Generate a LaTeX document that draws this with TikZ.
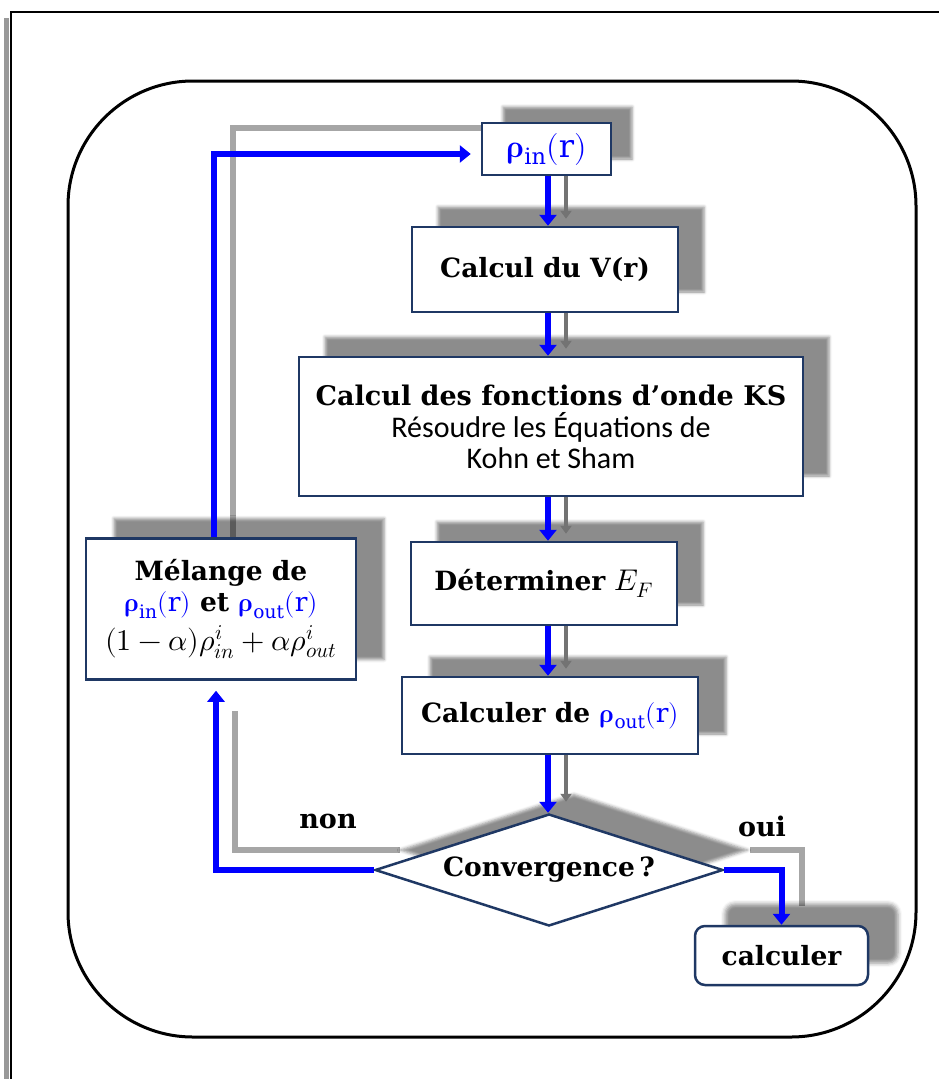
\documentclass[tikz,border=0pt]{standalone}
\usepackage{fontspec}
\usepackage{unicode-math}
\setmainfont{DejaVu Serif}
\setsansfont{Carlito}
\setmathfont{Latin Modern Math}
\usetikzlibrary{shapes.geometric,arrows.meta,shadows.blur}
\definecolor{boxblue}{RGB}{31,56,100}
\definecolor{flowblue}{RGB}{0,0,255}
\pgfdeclarelayer{bg}
\pgfsetlayers{bg,main}
\newcommand{\rin}{\textcolor{flowblue}{$\symbfup{\rho}_{\mathrm{in}}(\mathrm{r})$}}
\newcommand{\rout}{\textcolor{flowblue}{$\symbfup{\rho}_{\mathrm{out}}(\mathrm{r})$}}
\tikzset{
  box/.style={draw=boxblue, line width=2.5pt, fill=white, inner sep=0pt, align=center,
    font=\bfseries\fontsize{26.5}{32}\selectfont},
  sh/.style={blur shadow={shadow xshift=#1, shadow yshift=20pt, shadow opacity=45, shadow blur radius=3pt}},
  sh/.default=26pt,
  flow/.style={draw=flowblue, line width=6pt, -{Triangle[width=17pt,length=11pt]}},
  ghost/.style={draw=black!55, line width=4pt, -{Triangle[width=11pt,length=8pt]}},
  ghostline/.style={draw=black!35, line width=6pt},
  lab/.style={font=\bfseries\fontsize{27}{32}\selectfont, inner sep=0pt}
}
\begin{document}
\begin{tikzpicture}[x=1pt,y=-1pt]
\useasboundingbox (0,0) rectangle (939,1079);
% page frame
\fill[black!40] (4,18) rectangle (9,1079);
\draw[line width=2pt] (11,1079) -- (11,12) -- (939,12);
% rounded outer frame
\draw[line width=3pt, rounded corners=125pt] (68,81) rectangle (916,1037);

\coordinate (axis) at (548,0);
\coordinate (gaxis) at (566,0);

\node[box, minimum width=129pt, minimum height=52pt, font=\fontsize{32}{36}\selectfont,
  blur shadow={shadow xshift=21pt, shadow yshift=16pt, shadow opacity=45, shadow blur radius=3pt}]
  (rin) at (546.5,149) {\rin};
\node[box, sh, minimum width=266pt, minimum height=85pt] (V) at (545,269.5) {Calcul du V(r)};
\node[box, sh, minimum width=504pt, minimum height=139pt] (KS) at (551,426.5)
  {\fontsize{27}{32}\selectfont Calcul des fonctions d’onde KS\\[0pt]
   {\mdseries\sffamily\fontsize{30}{33}\selectfont Résoudre les Équations de}\\[-1pt]
   {\mdseries\sffamily\fontsize{30}{33}\selectfont Kohn et Sham}};
\node[box, sh, minimum width=266pt, minimum height=83pt] (EF) at (544,583.5)
  {Déterminer {\fontsize{30}{32}\selectfont$E_F$}};
\node[box, sh=28pt, minimum width=296pt, minimum height=77pt] (out) at (550,715.5) {Calculer de \rout};
\node[box, sh=25pt, shape=diamond, aspect=3.1, minimum width=348pt, minimum height=112pt]
  (conv) at (549,870) {Convergence\,?};
\node[box, sh=28pt, minimum width=270pt, minimum height=141pt] (mel) at (221,609)
  {Mélange de\\[-1pt] \rin{} et \rout\\[7pt]
   {\mdseries\fontsize{30}{32}\selectfont $(1-\alpha)\rho_{in}^{i}+\alpha\rho_{out}^{i}$}};
\node[box, rounded corners=10pt, minimum width=173pt, minimum height=59pt,
  blur shadow={shadow xshift=30pt, shadow yshift=22pt, shadow opacity=45, shadow blur radius=4pt}]
  (calc) at (781.5,955.5) {calculer};

\node[lab] (non) at (328,821) {non};
\node[lab] (oui) at (762,826) {oui};

% ghost (shadow) connectors
\begin{pgfonlayer}{bg}
\draw[ghostline] ([xshift=12pt]mel.north) |- ([yshift=21pt]rin.west);
\draw[ghostline] ([xshift=14pt,yshift=-30pt]mel.south) |- ([xshift=26pt,yshift=20pt]conv.west);
\draw[ghostline] ([xshift=26pt,yshift=20pt]conv.east) -| ([xshift=20pt,yshift=19pt]calc.north);
\end{pgfonlayer}

% small ghost arrows
\draw[ghost] (rin.south -| gaxis) -- ([yshift=7pt]V.north -| gaxis);
\draw[ghost] (V.south -| gaxis) -- ([yshift=7pt]KS.north -| gaxis);
\draw[ghost] (KS.south -| gaxis) -- ([yshift=7pt]EF.north -| gaxis);
\draw[ghost] (EF.south -| gaxis) -- ([yshift=7pt]out.north -| gaxis);
\draw[ghost] (out.south -| gaxis) -- ([yshift=11pt]conv.north -| gaxis);

% main flow
\draw[flow] (rin.south -| axis) -- (V.north -| axis);
\draw[flow] (V.south -| axis) -- (KS.north -| axis);
\draw[flow] (KS.south -| axis) -- (EF.north -| axis);
\draw[flow] (EF.south -| axis) -- (out.north -| axis);
\draw[flow] (out.south -| axis) -- (conv.north -| axis);
\draw[flow, shorten >=10pt] (conv.west) -| ([xshift=-5pt]mel.south);
\draw[flow, shorten >=10pt] ([xshift=-7pt]mel.north) |- ([yshift=-5pt]rin.west);
\draw[flow] (conv.east) -| (calc.north);
\end{tikzpicture}
\end{document}
